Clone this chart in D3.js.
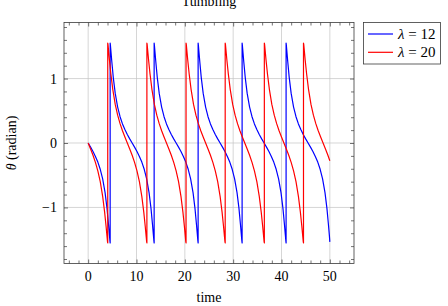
<!DOCTYPE html>
<html>
<head>
<meta charset="utf-8">
<script src="https://cdn.jsdelivr.net/npm/d3@7"></script>
<style>
  html, body { margin: 0; padding: 0; background: #fff; }
  svg { display: block; }
  text { font-family: "Liberation Serif", "DejaVu Serif", serif; fill: #000; }
</style>
</head>
<body>
<svg id="chart" width="448" height="306"></svg>
<script>
// ---- data ----
const title = "Tumbling";
const xLabel = "time";
const yLabel = "θ (radian)";
const xTicks = [0, 10, 20, 30, 40, 50];
const yTicks = [-1, 0, 1];
const yTickLabels = ["−1", "0", "1"];
const seriesNames = ["λ = 12", "λ = 20"];

const blueTime = [
  0,0.5,1,1.5,2,2.5,3,3.5,3.9,4.2,4.4,4.5,4.55,4.55,4.6,4.7,4.9,5.2,5.6,6.1,6.6,7.1,7.6,8.1,8.6,
  9.1,9.6,10.1,10.6,11.1,11.6,12.1,12.6,13.0,13.3,13.5,13.6,13.65,13.65,13.7,13.8,14.0,14.3,14.7,15.2,15.7,16.2,16.7,17.2,17.7,
  18.2,18.7,19.2,19.7,20.2,20.7,21.2,21.7,22.1,22.4,22.6,22.7,22.75,22.75,22.8,22.9,23.1,23.4,23.8,24.3,24.8,25.3,25.8,26.3,26.8,
  27.3,27.8,28.3,28.8,29.3,29.8,30.3,30.8,31.2,31.5,31.7,31.8,31.85,31.85,31.9,32.0,32.2,32.5,32.9,33.4,33.9,34.4,34.9,35.4,35.9,
  36.4,36.9,37.4,37.9,38.4,38.9,39.4,39.9,40.3,40.6,40.8,40.9,40.95,40.95,41.0,41.1,41.3,41.6,42.0,42.5,43.0,43.5,44.0,44.5,45.0,
  45.5,46.0,46.5,47.0,47.5,48.0,48.5,49.0,49.4,49.7,49.9,50.0
];
const blueTheta = [
  0,-0.064,-0.132,-0.208,-0.296,-0.408,-0.557,-0.770,-1.015,-1.258,-1.429,-1.521,-1.55,1.55,1.521,1.429,1.258,1.015,0.770,0.557,0.408,0.296,0.208,0.132,0.064,
  0,-0.064,-0.132,-0.208,-0.296,-0.408,-0.557,-0.770,-1.015,-1.258,-1.429,-1.521,-1.55,1.55,1.521,1.429,1.258,1.015,0.770,0.557,0.408,0.296,0.208,0.132,0.064,
  0,-0.064,-0.132,-0.208,-0.296,-0.408,-0.557,-0.770,-1.015,-1.258,-1.429,-1.521,-1.55,1.55,1.521,1.429,1.258,1.015,0.770,0.557,0.408,0.296,0.208,0.132,0.064,
  0,-0.064,-0.132,-0.208,-0.296,-0.408,-0.557,-0.770,-1.015,-1.258,-1.429,-1.521,-1.55,1.55,1.521,1.429,1.258,1.015,0.770,0.557,0.408,0.296,0.208,0.132,0.064,
  0,-0.064,-0.132,-0.208,-0.296,-0.408,-0.557,-0.770,-1.015,-1.258,-1.429,-1.521,-1.55,1.55,1.521,1.429,1.258,1.015,0.770,0.557,0.408,0.296,0.208,0.132,0.064,
  0,-0.064,-0.132,-0.208,-0.296,-0.408,-0.557,-0.770,-1.015,-1.258,-1.429,-1.535
];
const redTime = [
  0,0.5,1,1.5,2,2.5,3,3.4,3.7,3.9,4.0,4.05,4.05,4.1,4.2,4.4,4.7,5.1,5.6,6.1,6.6,7.1,7.6,
  8.1,8.6,9.1,9.6,10.1,10.6,11.1,11.5,11.8,12.0,12.1,12.15,12.15,12.2,12.3,12.5,12.8,13.2,13.7,14.2,14.7,15.2,15.7,
  16.2,16.7,17.2,17.7,18.2,18.7,19.2,19.6,19.9,20.1,20.2,20.25,20.25,20.3,20.4,20.6,20.9,21.3,21.8,22.3,22.8,23.3,23.8,
  24.3,24.8,25.3,25.8,26.3,26.8,27.3,27.7,28.0,28.2,28.3,28.35,28.35,28.4,28.5,28.7,29.0,29.4,29.9,30.4,30.9,31.4,31.9,
  32.4,32.9,33.4,33.9,34.4,34.9,35.4,35.8,36.1,36.3,36.4,36.45,36.45,36.5,36.6,36.8,37.1,37.5,38.0,38.5,39.0,39.5,40.0,
  40.5,41.0,41.5,42.0,42.5,43.0,43.5,43.9,44.2,44.4,44.5,44.55,44.55,44.6,44.7,44.9,45.2,45.6,46.1,46.6,47.1,47.6,48.1,
  48.6,49.1,49.6,50.0
];
const redTheta = [
  0,-0.092,-0.190,-0.300,-0.432,-0.599,-0.829,-1.070,-1.289,-1.449,-1.531,-1.55,1.55,1.531,1.449,1.289,1.070,0.829,0.599,0.432,0.300,0.190,0.092,
  0,-0.092,-0.190,-0.300,-0.432,-0.599,-0.829,-1.070,-1.289,-1.449,-1.531,-1.55,1.55,1.531,1.449,1.289,1.070,0.829,0.599,0.432,0.300,0.190,0.092,
  0,-0.092,-0.190,-0.300,-0.432,-0.599,-0.829,-1.070,-1.289,-1.449,-1.531,-1.55,1.55,1.531,1.449,1.289,1.070,0.829,0.599,0.432,0.300,0.190,0.092,
  0,-0.092,-0.190,-0.300,-0.432,-0.599,-0.829,-1.070,-1.289,-1.449,-1.531,-1.55,1.55,1.531,1.449,1.289,1.070,0.829,0.599,0.432,0.300,0.190,0.092,
  0,-0.092,-0.190,-0.300,-0.432,-0.599,-0.829,-1.070,-1.289,-1.449,-1.531,-1.55,1.55,1.531,1.449,1.289,1.070,0.829,0.599,0.432,0.300,0.190,0.092,
  0,-0.092,-0.190,-0.300,-0.432,-0.599,-0.829,-1.070,-1.289,-1.449,-1.531,-1.55,1.55,1.531,1.449,1.289,1.070,0.829,0.599,0.432,0.300,0.190,0.092,
  0,-0.092,-0.190,-0.276
];
const seriesColors = ["#0000ff", "#ff0000"];

// ---- layout ----
const L = 64, R = 354, T = 22.5, B = 263.5;
const svg = d3.select("#chart");
const x = d3.scaleLinear().domain([-5, 55]).range([L, R]);
const y = d3.scaleLinear().domain([-1.87, 1.87]).range([B, T]);

// grid
const grid = svg.append("g").attr("stroke", "#c4c4c4").attr("stroke-width", 0.7);
xTicks.forEach(v => grid.append("line").attr("x1", x(v)).attr("x2", x(v)).attr("y1", T).attr("y2", B));
yTicks.forEach(v => grid.append("line").attr("y1", y(v)).attr("y2", y(v)).attr("x1", L).attr("x2", R));

// axes with inward ticks (d3 axes)
const xMinor = d3.range(-4, 55, 2).filter(v => !xTicks.includes(v));
const yMinor = d3.range(-18, 19, 2).map(v => v / 10).filter(v => !yTicks.includes(v));
const axColor = "#3a3a3a";

function styleAxis(g) {
  g.select(".domain").remove();
  g.selectAll(".tick line").attr("stroke", axColor).attr("stroke-width", 0.7);
}
svg.append("g").attr("transform", `translate(0,${B})`)
  .call(d3.axisTop(x).tickValues(xTicks).tickSize(4).tickFormat("")).call(styleAxis);
svg.append("g").attr("transform", `translate(0,${B})`)
  .call(d3.axisTop(x).tickValues(xMinor).tickSize(3).tickFormat("")).call(styleAxis);
svg.append("g").attr("transform", `translate(0,${T})`)
  .call(d3.axisBottom(x).tickValues(xTicks).tickSize(4).tickFormat("")).call(styleAxis);
svg.append("g").attr("transform", `translate(0,${T})`)
  .call(d3.axisBottom(x).tickValues(xMinor).tickSize(3).tickFormat("")).call(styleAxis);
svg.append("g").attr("transform", `translate(${L},0)`)
  .call(d3.axisRight(y).tickValues(yTicks).tickSize(4).tickFormat("")).call(styleAxis);
svg.append("g").attr("transform", `translate(${L},0)`)
  .call(d3.axisRight(y).tickValues(yMinor).tickSize(3).tickFormat("")).call(styleAxis);
svg.append("g").attr("transform", `translate(${R},0)`)
  .call(d3.axisLeft(y).tickValues(yTicks).tickSize(4).tickFormat("")).call(styleAxis);
svg.append("g").attr("transform", `translate(${R},0)`)
  .call(d3.axisLeft(y).tickValues(yMinor).tickSize(3).tickFormat("")).call(styleAxis);

// tick labels
svg.append("g").selectAll("text").data(xTicks).join("text")
  .attr("x", d => x(d)).attr("y", B + 17).attr("text-anchor", "middle")
  .attr("font-size", 14).text(d => d);
svg.append("g").selectAll("text").data(yTicks).join("text")
  .attr("x", L - 7).attr("y", d => y(d) + 5).attr("text-anchor", "end")
  .attr("font-size", 14).text((d, i) => yTickLabels[i]);

// lines
const clip = svg.append("clipPath").attr("id", "clip").append("rect")
  .attr("x", L).attr("y", T).attr("width", R - L).attr("height", B - T);
const line = d3.line().x(d => x(d[0])).y(d => y(d[1]));
const series = [
  blueTime.map((t, i) => [t, blueTheta[i]]),
  redTime.map((t, i) => [t, redTheta[i]])
];
series.forEach((s, i) => {
  svg.append("path").attr("d", line(s)).attr("fill", "none")
    .attr("stroke", seriesColors[i]).attr("stroke-width", 1.2)
    .attr("stroke-linejoin", "round").attr("clip-path", "url(#clip)");
});

// frame
svg.append("rect").attr("x", L).attr("y", T).attr("width", R - L).attr("height", B - T)
  .attr("fill", "none").attr("stroke", axColor).attr("stroke-width", 0.8);

// labels
svg.append("text").attr("x", (L + R) / 2).attr("y", 6).attr("text-anchor", "middle")
  .attr("font-size", 14).text(title);
svg.append("text").attr("x", (L + R) / 2).attr("y", 302).attr("text-anchor", "middle")
  .attr("font-size", 14).text(xLabel);
svg.append("text").attr("transform", `translate(16,${(T + B) / 2}) rotate(-90)`)
  .attr("text-anchor", "middle").attr("font-size", 14)
  .html('<tspan font-style="italic">θ</tspan> (radian)');

// legend
const lg = svg.append("g");
lg.append("rect").attr("x", 363.5).attr("y", 22.5).attr("width", 77).attr("height", 41.5)
  .attr("fill", "#fff").attr("stroke", axColor).attr("stroke-width", 0.8);
seriesNames.forEach((n, i) => {
  const cy = 34 + i * 18.3;
  lg.append("line").attr("x1", 368).attr("x2", 393).attr("y1", cy).attr("y2", cy)
    .attr("stroke", seriesColors[i]).attr("stroke-width", 1.2);
  const t = lg.append("text").attr("x", 398).attr("y", cy + 5).attr("font-size", 15);
  t.append("tspan").attr("font-style", "italic").text("λ");
  t.append("tspan").text(n.slice(1));
});
</script>
</body>
</html>
